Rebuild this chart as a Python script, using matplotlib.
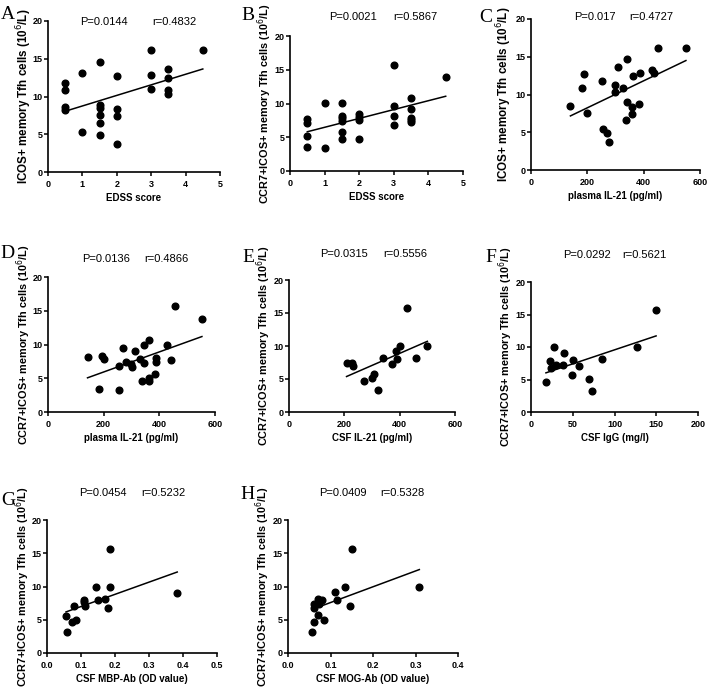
import matplotlib
matplotlib.use('Agg')
import matplotlib.pyplot as plt
import numpy as np

plt.rcParams['font.family'] = ['Liberation Sans', 'DejaVu Sans']

# A: EDSS score vs ICOS+ memory Tfh
edss_a = [0.5, 0.5, 0.5, 0.5, 1, 1, 1.5, 1.5, 1.5, 1.5, 1.5, 1.5,
          2, 2, 2, 2, 3, 3, 3, 3.5, 3.5, 3.5, 3.5, 4.5]
icos_a = [11.8, 10.8, 8.6, 8.2, 13.1, 5.3, 14.6, 8.9, 8.5, 7.5, 6.5, 4.9,
          12.7, 8.4, 7.4, 3.7, 16.2, 12.8, 11.0, 13.6, 12.4, 10.9, 10.3, 16.1]

# B: EDSS score vs CCR7+ICOS+ memory Tfh
edss_b = [0.5, 0.5, 0.5, 0.5, 1, 1, 1.5, 1.5, 1.5, 1.5, 1.5, 1.5,
          2, 2, 2, 2, 3, 3, 3, 3, 3.5, 3.5, 3.5, 3.5, 3.5, 4.5]
ccr7_b = [7.7, 7.1, 5.2, 3.5, 10.1, 3.4, 10.1, 8.2, 7.9, 7.4, 5.8, 4.7,
          8.4, 8.0, 7.5, 4.7, 15.7, 9.6, 8.1, 6.8, 10.8, 9.2, 7.9, 7.5, 7.2, 13.9]

# C: plasma IL-21 vs ICOS+ memory Tfh
il21_c = [140, 182, 189, 200, 251, 254, 269, 278, 298, 298, 310, 328,
          336, 340, 342, 357, 357, 361, 383, 387, 428, 437, 452, 550]
icos_c = [8.5, 10.8, 12.7, 7.6, 11.8, 5.4, 4.9, 3.75, 11.2, 10.3, 13.7, 10.8,
          6.6, 9.05, 14.7, 8.4, 7.4, 12.45, 8.7, 12.9, 13.2, 12.9, 16.2, 16.1]

# D: plasma IL-21 vs CCR7+ICOS+ memory Tfh
il21_d = [142, 184, 193, 201, 255, 256, 271, 280, 298, 301, 313, 331, 339,
          344, 345, 363, 362, 362, 384, 387, 388, 429, 441, 455, 553]
ccr7_d = [8.1, 3.4, 8.3, 7.9, 6.8, 3.3, 9.5, 7.4, 7.1, 6.6, 9.1, 7.9, 4.6,
          7.2, 9.9, 10.7, 5.1, 4.55, 5.6, 7.4, 8.0, 9.9, 7.65, 15.65, 13.8]

# E: CSF IL-21 vs CCR7+ICOS+ memory Tfh
il21_e = [208, 227, 231, 271, 299, 308, 320, 341, 373, 387, 392, 401, 428, 458, 500]
ccr7_e = [7.5, 7.45, 6.9, 4.75, 5.2, 5.7, 3.4, 8.15, 7.25, 9.25, 8.05, 10.0, 15.75, 8.25, 10.0]

# F: CSF IgG vs CCR7+ICOS+ memory Tfh
igg_f = [17.9, 23.1, 23.9, 27.9, 29.9, 39, 38.6, 48.6, 50.6, 57.8, 69.7, 72.5, 85.3, 126.7, 149.8]
ccr7_f = [4.6, 7.9, 6.8, 10.0, 7.3, 9.1, 7.3, 5.7, 8.0, 7.1, 5.05, 3.25, 8.1, 10.0, 15.7]

# G: CSF MBP-Ab vs CCR7+ICOS+ memory Tfh
mbp_g = [0.056, 0.058, 0.074, 0.078, 0.084, 0.109, 0.110, 0.111,
         0.145, 0.151, 0.170, 0.178, 0.184, 0.184, 0.383]
ccr7_g = [5.6, 3.2, 4.6, 7.1, 5.0, 8.0, 7.6, 7.1, 9.9, 7.9, 8.1, 6.7, 9.9, 15.6, 9.05]

# H: CSF MOG-Ab vs CCR7+ICOS+ memory Tfh
mog_h = [0.057, 0.060, 0.060, 0.060, 0.070, 0.071, 0.072, 0.081,
         0.084, 0.110, 0.115, 0.135, 0.145, 0.150, 0.309]
ccr7_h = [3.2, 4.6, 7.3, 6.8, 5.7, 8.1, 7.3, 7.9, 5.0, 9.15, 8.0, 9.95, 7.1, 15.6, 9.95]

stats = [('0.0144', '0.4832'), ('0.0021', '0.5867'), ('0.017', '0.4727'),
         ('0.0136', '0.4866'), ('0.0315', '0.5556'), ('0.0292', '0.5621'),
         ('0.0454', '0.5232'), ('0.0409', '0.5328')]

ylab_icos = 'ICOS+ memory Tfh cells (10$^6$/L)'
ylab_ccr7 = 'CCR7+ICOS+ memory Tfh cells (10$^6$/L)'

W, H = 708, 690
fig = plt.figure(figsize=(W / 100, H / 100), dpi=100)

# (letter, x, y, xlabel, ylabel, ylabel size, ylabel offset px, xticks, ticklabels,
#  axes box px, letter pos, P pos, r pos)
panels = [
    ('A', edss_a, icos_a, 'EDSS score', ylab_icos, 8.4, 14, [0, 1, 2, 3, 4, 5], None,
     (48, 220, 21, 172), (1, 19), (80, 22), (152, 22)),
    ('B', edss_b, ccr7_b, 'EDSS score', ylab_ccr7, 7.8, 16, [0, 1, 2, 3, 4, 5], None,
     (290, 463, 36, 171), (241, 20), (329, 17), (393, 17)),
    ('C', il21_c, icos_c, 'plasma IL-21 (pg/ml)', ylab_icos, 8.4, 17, [0, 200, 400, 600], None,
     (531, 700, 19, 170), (479, 22), (574, 17), (629, 17)),
    ('D', il21_d, ccr7_d, 'plasma IL-21 (pg/ml)', ylab_ccr7, 7.8, 15, [0, 200, 400, 600], None,
     (48, 215, 277, 412), (0, 258), (82, 259), (144, 259)),
    ('E', il21_e, ccr7_e, 'CSF IL-21 (pg/ml)', ylab_ccr7, 7.8, 16, [0, 200, 400, 600], None,
     (289, 455, 280, 412), (242, 262), (320, 254), (383, 254)),
    ('F', igg_f, ccr7_f, 'CSF IgG (mg/l)', ylab_ccr7, 7.8, 16, [0, 50, 100, 150, 200], None,
     (531, 698, 282, 412), (485, 262), (563, 255), (622, 255)),
    ('G', mbp_g, ccr7_g, 'CSF MBP-Ab (OD value)', ylab_ccr7, 7.8, 14.5, [0, 0.1, 0.2, 0.3, 0.4, 0.5],
     ['0.0', '0.1', '0.2', '0.3', '0.4', '0.5'],
     (47, 217, 520, 653), (1, 505), (79, 493), (141, 493)),
    ('H', mog_h, ccr7_h, 'CSF MOG-Ab (OD value)', ylab_ccr7, 7.8, 16, [0, 0.1, 0.2, 0.3, 0.4],
     ['0.0', '0.1', '0.2', '0.3', '0.4'],
     (288, 458, 520, 653), (240, 499), (319, 493), (380, 493)),
]

for i, (letter, xs, ys, xlab, ylab, ysize, yoff, xt, xtl, box, lpos, ppos, rpos) in enumerate(panels):
    x0, x1, y0, y1 = box
    ax = fig.add_axes([x0 / W, 1 - y1 / H, (x1 - x0) / W, (y1 - y0) / H])
    xs = np.array(xs)
    ys = np.array(ys)
    ax.plot(xs, ys, 'o', color='black', markersize=4.8, clip_on=False)
    k, b = np.polyfit(xs, ys, 1)
    xx = np.array([xs.min(), xs.max()])
    ax.plot(xx, k * xx + b, color='black', lw=1.1)

    ax.set_xlim(xt[0], xt[-1])
    ax.set_ylim(0, 20)
    ax.set_xticks(xt)
    if xtl is not None:
        ax.set_xticklabels(xtl)
    ax.set_yticks([0, 5, 10, 15, 20])
    for s in ['top', 'right']:
        ax.spines[s].set_visible(False)
    for s in ['left', 'bottom']:
        ax.spines[s].set_linewidth(1.2)
    ax.tick_params(direction='out', length=3, width=1.1, labelsize=6.5)
    ax.tick_params(axis='x', pad=2.5)
    ax.tick_params(axis='y', pad=0.8)
    for lab in ax.get_xticklabels() + ax.get_yticklabels():
        lab.set_fontweight('bold')
    ax.set_xlabel(xlab, fontsize=7.0, fontweight='bold', labelpad=3)
    ax.set_ylabel(ylab, fontsize=ysize, fontweight='bold')
    ax.yaxis.set_label_coords(-yoff / (x1 - x0), 0.5)

    fig.text(lpos[0] / W, 1 - lpos[1] / H, letter, fontsize=14,
             family=['Liberation Serif', 'DejaVu Serif'], ha='left', va='baseline')
    p, r = stats[i]
    fig.text(ppos[0] / W, 1 - ppos[1] / H, 'P=' + p, fontsize=8.0, ha='left', va='center')
    fig.text(rpos[0] / W, 1 - rpos[1] / H, 'r=' + r, fontsize=8.0, ha='left', va='center')

plt.savefig('out.png', dpi=100)
